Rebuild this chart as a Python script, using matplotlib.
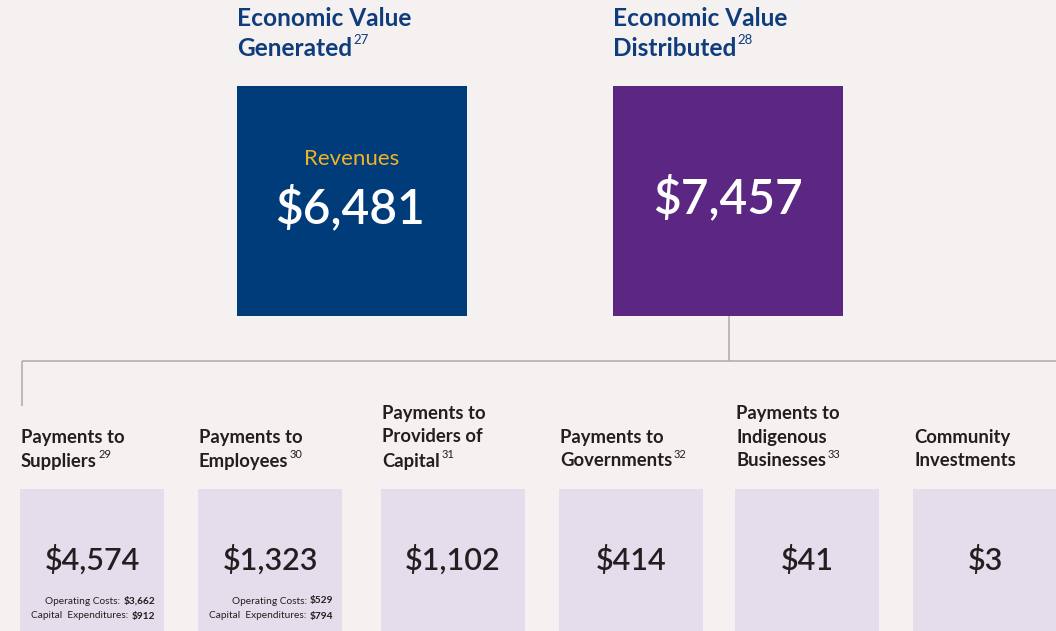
import matplotlib
matplotlib.use("Agg")
import matplotlib.pyplot as plt
from matplotlib.patches import Rectangle

# ---- data ----
top_titles = [["Economic Value", "Generated"], ["Economic Value", "Distributed"]]
top_notes = ["27", "28"]
top_labels = ["Revenues", ""]
top_values = ["$6,481", "$7,457"]

categories = [
    ["Payments to", "Suppliers"],
    ["Payments to", "Employees"],
    ["Payments to", "Providers of", "Capital"],
    ["Payments to", "Governments"],
    ["Payments to", "Indigenous", "Businesses"],
    ["Community", "Investments"],
]
cat_notes = ["29", "30", "31", "32", "33", ""]
cat_values = ["$4,574", "$1,323", "$1,102", "$414", "$41", "$3"]
op_costs = ["$3,662", "$529", None, None, None, None]
cap_ex = ["$912", "$794", None, None, None, None]

# ---- style ----
BG = "#F5F1F0"
BLUE = "#003B7A"
PURPLE = "#5C2683"
LAV = "#E4DEEC"
DARK = "#231F20"
TITLE = "#0E3C7C"
YELLOW = "#F0B323"
LINE = "#B3B0B0"
FONT = ["Lato", "DejaVu Sans"]

W, H = 1056, 631
fig = plt.figure(figsize=(W / 100, H / 100), dpi=100, facecolor=BG)
ax = fig.add_axes([0, 0, 1, 1])
ax.set_xlim(0, W)
ax.set_ylim(H, 0)
ax.axis("off")

sups = []

# top boxes
top_x = [237, 613]
for i in range(2):
    x0 = top_x[i]
    color = BLUE if i == 0 else PURPLE
    ax.add_patch(Rectangle((x0, 86), 230, 230, facecolor=color, edgecolor="none"))
    ax.text(x0, 18, top_titles[i][0], fontsize=17.6, fontweight="bold", color=TITLE,
            family=FONT, ha="left", va="center")
    t = ax.text(x0, 49, top_titles[i][1], fontsize=17.6, fontweight="bold", color=TITLE,
                family=FONT, ha="left", va="center")
    sups.append((t, top_notes[i], TITLE, 9.5, 4))
    if top_labels[i]:
        ax.text(x0 + 115, 159, top_labels[i], fontsize=16, color=YELLOW, family=FONT,
                ha="center", va="center")
        ax.text(x0 + 113, 208, top_values[i], fontsize=34.5, fontweight="semibold",
                color="white", family=FONT, ha="center", va="center")
    else:
        ax.text(x0 + 115, 198, top_values[i], fontsize=34.5, fontweight="semibold",
                color="white", family=FONT, ha="center", va="center")

# connectors
ax.plot([729, 729], [316, 361], color=LINE, lw=1.2, solid_capstyle="butt")
ax.plot([22, W], [361, 361], color=LINE, lw=1.2, solid_capstyle="butt")
ax.plot([22, 22], [361, 406], color=LINE, lw=1.2, solid_capstyle="butt")

fig.canvas.draw()
r = fig.canvas.get_renderer()
inv = ax.transData.inverted()


def width_px(s, fs, weight):
    tmp = ax.text(0, 0, s, fontsize=fs, fontweight=weight, family=FONT)
    w = tmp.get_window_extent(r).width
    tmp.remove()
    return w


# bottom boxes
box_x = [20, 198, 381, 559, 735, 913]
SF = 7.3
for i, lines in enumerate(categories):
    x0 = box_x[i]
    ax.add_patch(Rectangle((x0, 489), 144, 160, facecolor=LAV, edgecolor="none"))
    n = len(lines)
    last = None
    for k, s in enumerate(lines):
        y = 461 - 24 * (n - 1 - k)
        last = ax.text(x0 + 1, y, s, fontsize=13.3, fontweight="bold", color=DARK,
                       family=FONT, ha="left", va="center")
    if cat_notes[i]:
        sups.append((last, cat_notes[i], DARK, 8, 3))
    ax.text(x0 + 72, 560, cat_values[i], fontsize=22, fontweight="semibold", color=DARK,
            family=FONT, ha="center", va="center")
    if op_costs[i]:
        xr = x0 + 135
        for yv, lab, val in [(601, "Operating Costs:", op_costs[i]),
                             (616, "Capital  Expenditures:", cap_ex[i])]:
            ax.text(xr, yv, val, fontsize=SF, fontweight="bold", color=DARK,
                    family=FONT, ha="right", va="center")
            wv = width_px(val, SF, "bold")
            ax.text(xr - wv - 3, yv, lab, fontsize=SF, color=DARK,
                    family=FONT, ha="right", va="center")

# superscripts
fig.canvas.draw()
r = fig.canvas.get_renderer()
for t, note, col, fs, up in sups:
    bb = t.get_window_extent(r)
    x1, y1 = inv.transform((bb.x1, bb.y1))
    ax.text(x1 + 1.5, y1 - up, note, fontsize=fs, color=col, family=FONT, ha="left", va="top")

fig.savefig("out.png", dpi=100, facecolor=BG)
